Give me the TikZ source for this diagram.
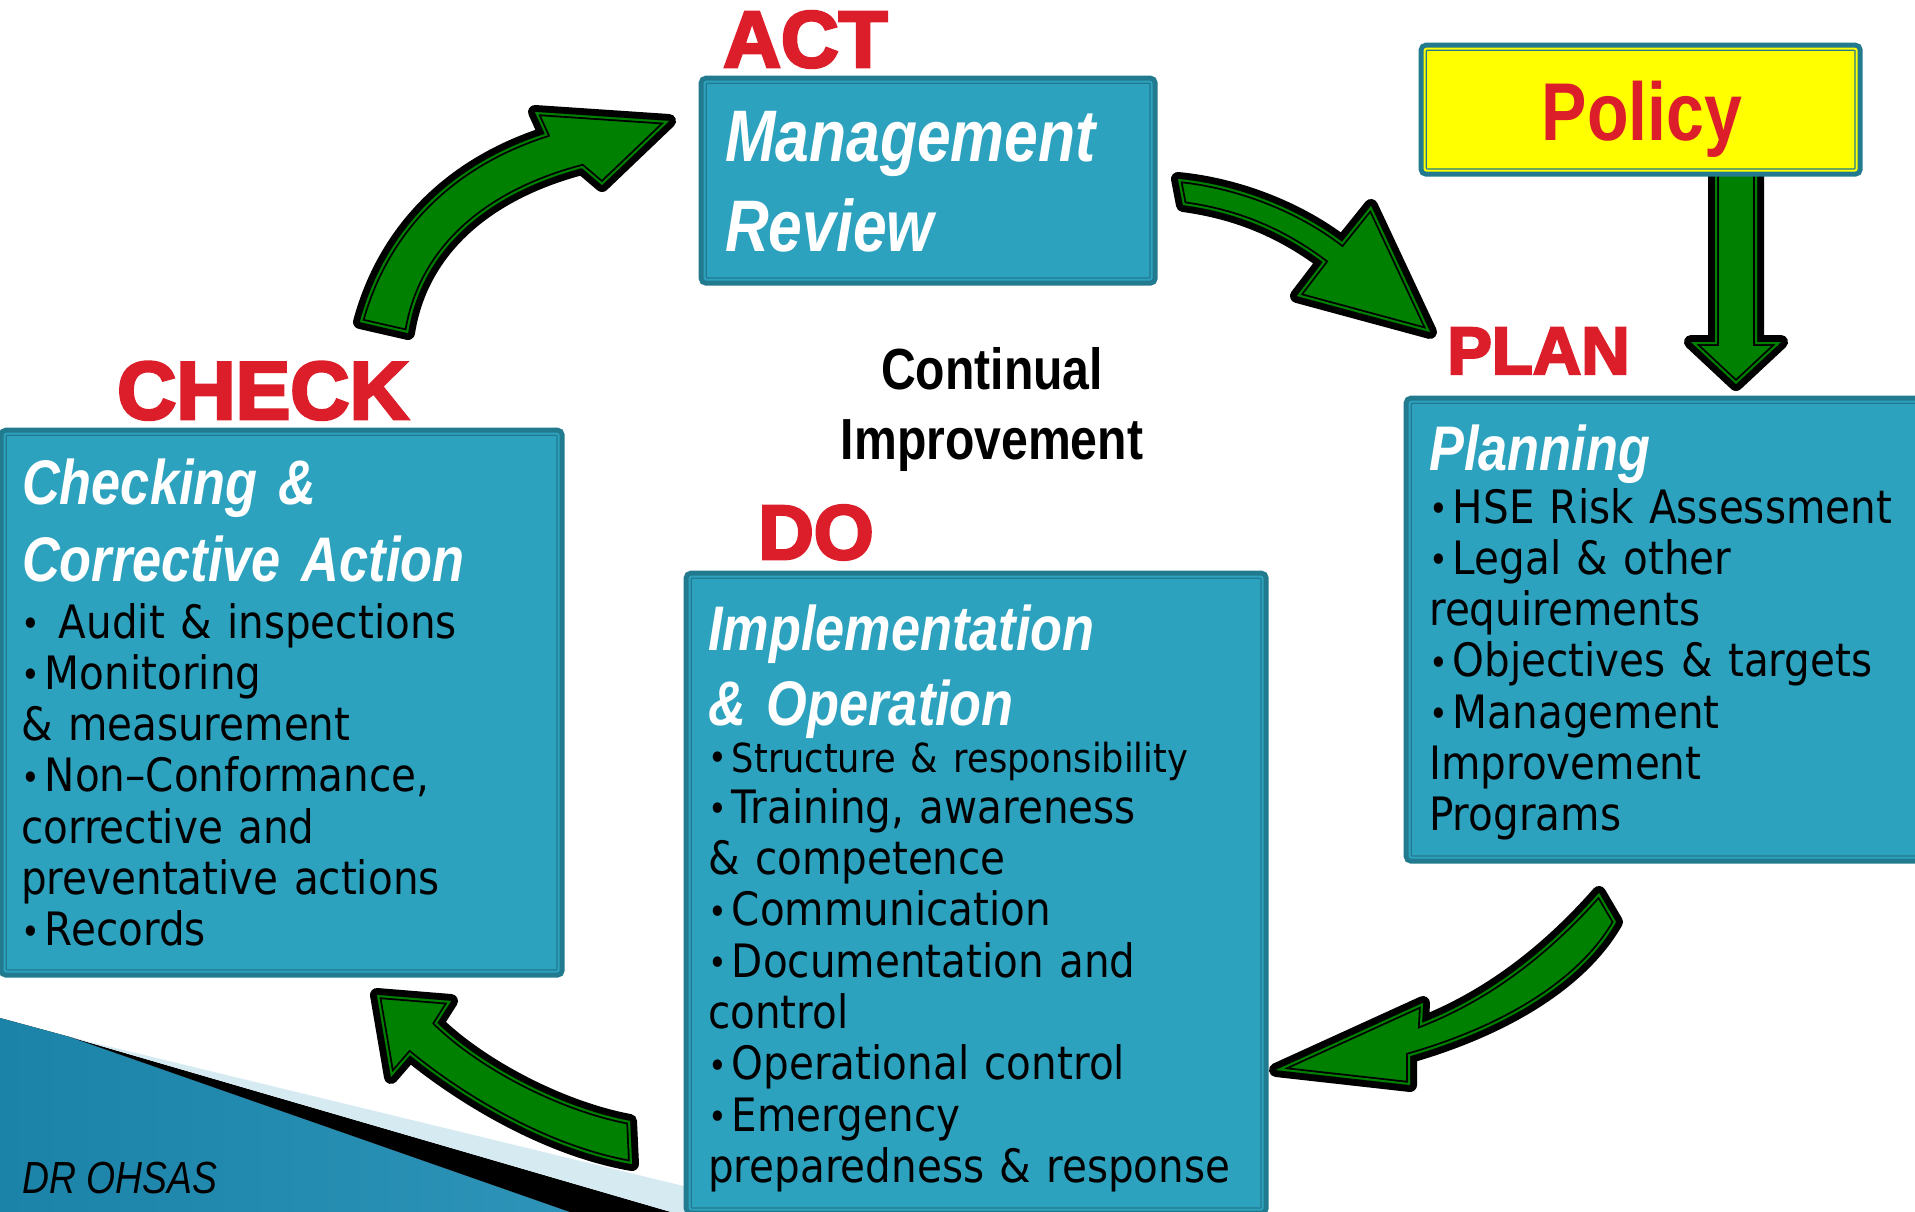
\documentclass[tikz,border=0pt]{standalone}
\usepackage{fontspec}
\setmainfont{DejaVu Sans}[FakeStretch=0.88]
\newfontfamily\headfont{Liberation Sans}[FakeStretch=0.83]
\newfontfamily\labelfont{Liberation Sans}[FakeBold=3.5]

\definecolor{boxfill}{RGB}{45,162,191}
\definecolor{boxedge}{RGB}{33,122,142}
\definecolor{labelred}{RGB}{220,30,43}
\definecolor{arrowgreen}{RGB}{0,128,0}
\definecolor{policyyellow}{RGB}{255,255,0}
\definecolor{wedgepale}{RGB}{214,234,242}
\definecolor{wedgedark}{RGB}{27,131,168}
\definecolor{wedgelight}{RGB}{88,186,222}

% fat green arrow with black rim and thin inner line
\newcommand{\greenarrow}[1]{%
  \draw[black,line width=14pt,line join=round] #1;
  \fill[arrowgreen] #1;
  \begin{scope}
    \clip #1;
    \draw[black,line width=7.6pt] #1;
    \draw[arrowgreen,line width=4pt] #1;
  \end{scope}}
% small list dot
\newcommand{\itemdot}{\raisebox{1.5pt}{\fontsize{36}{36}\selectfont •}\hspace{5pt}}

\begin{document}
\begin{tikzpicture}[x=1pt,y=-1pt,
  panel/.style={preaction={draw=boxedge,line width=12pt},draw=boxedge,line width=1.3pt,double=#1,double distance=2pt,fill=#1,rounded corners=2pt,inner sep=0pt,anchor=north west},
  phase/.style={anchor=base west,inner sep=0pt,text=labelred,font=\labelfont\bfseries\fontsize{#1}{#1}\selectfont},
  heading/.style 2 args={anchor=base west,inner sep=0pt,text=white,text width=560pt,align=left,font=\headfont\bfseries\itshape\fontsize{#1}{#2}\selectfont},
  items/.style={anchor=base west,inner sep=0pt,text width=560pt,align=left,font=\fontsize{46}{51.3}\selectfont}]
\useasboundingbox (0,0) rectangle (1915,1212);
\clip (0,0) rectangle (1915,1212);
\fill[white] (0,0) rectangle (1915,1212);

% corner decoration
\fill[left color=wedgedark,middle color=wedgelight,right color=wedgedark!70!wedgelight] (0,1018) -- (70,1037) -- (570,1212) -- (0,1212) -- cycle;
\fill[black] (70,1037) -- (671,1212) -- (570,1212) -- cycle;
\fill[wedgepale] (70,1037) -- (700,1190) -- (700,1212) -- (671,1212) -- cycle;

% arrows round the cycle
\greenarrow{(360,322) .. controls (385,230) and (450,165) .. (545,134) -- (535,112) -- (669,121) -- (602,185) -- (582,168) .. controls (480,195) and (420,255) .. (408,333) -- cycle}
\greenarrow{(1178,179) .. controls (1240,185) and (1300,210) .. (1342,242) -- (1371,206) -- (1430,332) -- (1297,296) -- (1323,262) .. controls (1280,230) and (1235,212) .. (1183,205) -- cycle}
\greenarrow{(1715,172) -- (1715,342) -- (1691,342) -- (1736,384) -- (1781,342) -- (1757,342) -- (1757,172) -- cycle}
\greenarrow{(377,995) -- (451,1001) -- (437,1023) .. controls (480,1065) and (560,1108) .. (630,1121) -- (632,1164) .. controls (550,1150) and (465,1100) .. (410,1055) -- (391,1077) -- cycle}

% boxes
\node[panel=boxfill,minimum width=447pt,minimum height=198pt] (actbox) at (704,81) {};
\node[panel=policyyellow,minimum width=432pt,minimum height=122pt] (policybox) at (1424,48) {};
\node[panel=boxfill,minimum width=554pt,minimum height=538pt] (checkbox) at (4,433) {};
\node[panel=boxfill,minimum width=526pt,minimum height=456pt] (planbox) at (1409,401) {};
\node[panel=boxfill,minimum width=573pt,minimum height=633pt] (dobox) at (689,576) {};

\greenarrow{(1599,893) .. controls (1540,960) and (1480,1000) .. (1422,1023) -- (1423,1003) -- (1276,1070) -- (1410,1085) -- (1410,1056) .. controls (1500,1030) and (1580,985) .. (1616,922) -- cycle}

% phase labels
\node[phase=80] (actlabel) at (723,67) {ACT};
\node[phase=82] (checklabel) at (117,419) {CHECK};
\node[phase=67] (planlabel) at (1447,374) {PLAN};
\node[phase=77] (dolabel) at (758,559) {DO};

% policy
\node[anchor=base,inner sep=0pt,text=labelred,font=\headfont\bfseries\fontsize{82}{82}\selectfont] (policy) at (1642,141) {Policy};

% box texts
\node[heading={73}{90}] (acthead) at (725,162) {Management\\Review};

\node[heading={63}{77}] (checkhead) at (22,504) {Checking \&\\Corrective Action};
\node[items] (checkitems) at (21,638) {\itemdot\hspace{14pt}Audit \& inspections\\\itemdot Monitoring\\\& measurement\\\itemdot Non–Conformance,\\corrective and\\preventative actions\\\itemdot Records};

\node[heading={63}{77}] (planhead) at (1429,470) {Planning};
\node[items] (planitems) at (1429,523) {\itemdot HSE Risk Assessment\\\itemdot Legal \& other\\requirements\\\itemdot Objectives \& targets\\\itemdot Management\\Improvement\\Programs};

\node[heading={63}{75}] (dohead) at (708,650) {Implementation\\\& Operation};
\node[items] (doitems) at (708,772) {{\fontsize{40}{51.3}\selectfont\itemdot Structure \& responsibility}\\\itemdot Training, awareness\\\& competence\\\itemdot Communication\\\itemdot Documentation and\\control\\\itemdot Operational control\\\itemdot Emergency\\preparedness \& response};

% centre text and credit
\node[anchor=base,inner sep=0pt,text width=400pt,align=center,font=\headfont\bfseries\fontsize{58}{70}\selectfont] (continual) at (992,389) {Continual\\Improvement};
\node[anchor=base west,inner sep=0pt,font=\headfont\itshape\fontsize{45}{45}\selectfont] (credit) at (22,1193) {DR OHSAS};
\end{tikzpicture}
\end{document}
